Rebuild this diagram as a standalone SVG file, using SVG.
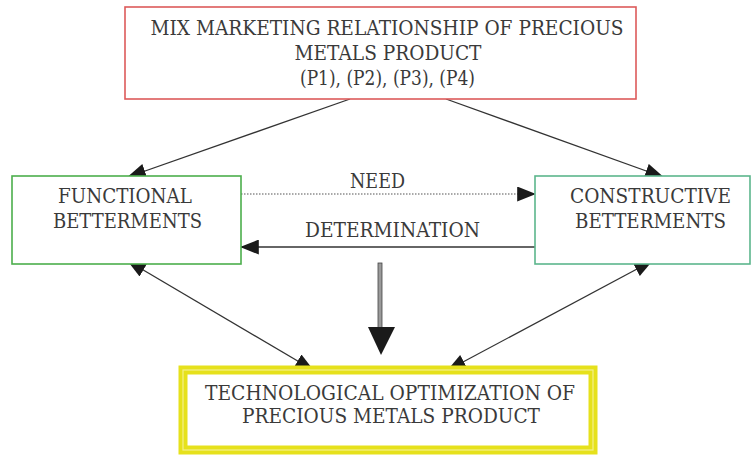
<svg xmlns="http://www.w3.org/2000/svg" width="756" height="455" viewBox="0 0 756 455">
  <style>
    .lbl { font-family: "DejaVu Serif", "Liberation Serif", serif; font-size: 19.5px; fill: #3a3a3a; text-anchor: middle; }
    .box { fill: #ffffff; }
    .link { fill: none; stroke: #333333; stroke-width: 1.3; }
    .dotted { fill: none; stroke: #555555; stroke-width: 1.2; stroke-dasharray: 1.5 1.5; }
  </style>
  <defs>
    <marker id="head" viewBox="0 0 20 16" refX="19" refY="8" markerWidth="19" markerHeight="15" markerUnits="userSpaceOnUse" orient="auto-start-reverse">
      <path d="M0,0 L20,8 L0,16 z" fill="#1a1a1a"/>
    </marker>
  </defs>

  <rect width="756" height="455" fill="#ffffff"/>

  <!-- connectors are drawn first so the node boxes sit on top of them -->
  <g id="connectors">
    <line class="link" x1="350" y1="99" x2="128" y2="177" marker-end="url(#head)"/>
    <line class="link" x1="446" y1="99" x2="663" y2="177" marker-end="url(#head)"/>
    <line class="dotted" x1="241" y1="194" x2="535" y2="194" marker-end="url(#head)"/>
    <line class="link" x1="535" y1="247" x2="241" y2="247" marker-end="url(#head)"/>
    <line class="link" x1="128" y1="261" x2="313" y2="370" marker-start="url(#head)" marker-end="url(#head)"/>
    <line class="link" x1="652" y1="261" x2="448" y2="370" marker-start="url(#head)" marker-end="url(#head)"/>
    <!-- central thick arrow -->
    <rect x="378" y="263" width="4" height="65" fill="#9a9a9a" stroke="#444444" stroke-width="0.8"/>
    <path d="M368,327 L395,327 L381,355 z" fill="#1a1a1a"/>
  </g>

  <g id="mix-marketing">
    <rect class="box" x="125" y="7" width="511" height="92" stroke="#dd5a5a" stroke-width="1.6"/>
    <text class="lbl" x="387" y="35" textLength="473" lengthAdjust="spacingAndGlyphs">MIX MARKETING RELATIONSHIP OF PRECIOUS</text>
    <text class="lbl" x="388" y="60" textLength="187" lengthAdjust="spacingAndGlyphs">METALS PRODUCT</text>
    <text class="lbl" x="387.5" y="85" textLength="175" lengthAdjust="spacingAndGlyphs">(P1), (P2), (P3), (P4)</text>
  </g>

  <g id="functional">
    <rect class="box" x="12" y="176" width="229" height="88" stroke="#4cae4c" stroke-width="1.6"/>
    <text class="lbl" x="125" y="203" textLength="134" lengthAdjust="spacingAndGlyphs">FUNCTIONAL</text>
    <text class="lbl" x="127.5" y="228" textLength="149" lengthAdjust="spacingAndGlyphs">BETTERMENTS</text>
  </g>

  <g id="constructive">
    <rect class="box" x="535" y="176" width="215" height="88" stroke="#5cb68c" stroke-width="1.6"/>
    <text class="lbl" x="650.5" y="203" textLength="161" lengthAdjust="spacingAndGlyphs">CONSTRUCTIVE</text>
    <text class="lbl" x="650.5" y="228" textLength="151" lengthAdjust="spacingAndGlyphs">BETTERMENTS</text>
  </g>

  <g id="edge-labels">
    <text class="lbl" x="377.5" y="188" textLength="55" lengthAdjust="spacingAndGlyphs">NEED</text>
    <text class="lbl" x="392.5" y="237" textLength="175" lengthAdjust="spacingAndGlyphs">DETERMINATION</text>
  </g>

  <g id="optimization">
    <rect class="box" x="183" y="370" width="410" height="80" stroke="#e6e11c" stroke-width="9"/>
    <rect x="183" y="370" width="410" height="80" fill="none" stroke="#f3f08c" stroke-width="1.2"/>
    <text class="lbl" x="390" y="400" textLength="370" lengthAdjust="spacingAndGlyphs">TECHNOLOGICAL OPTIMIZATION OF</text>
    <text class="lbl" x="391" y="423" textLength="298" lengthAdjust="spacingAndGlyphs">PRECIOUS METALS PRODUCT</text>
  </g>
</svg>
